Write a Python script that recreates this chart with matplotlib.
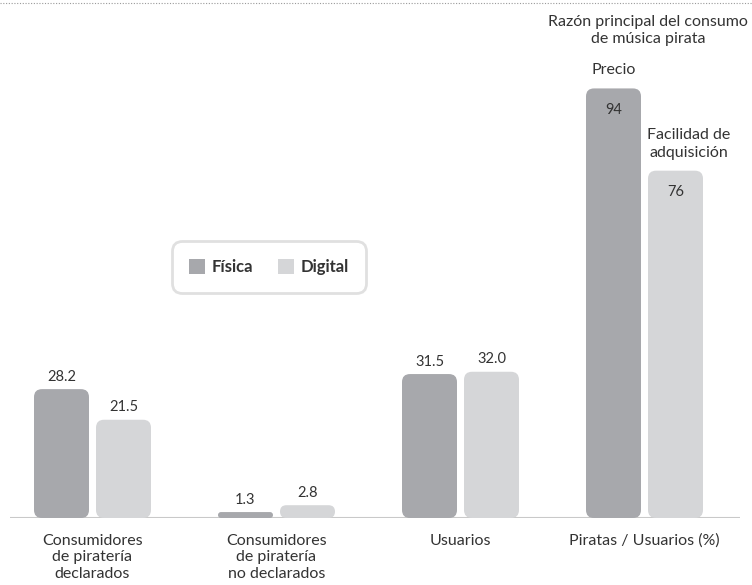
import matplotlib.pyplot as plt
from matplotlib.patches import FancyBboxPatch, Patch
from matplotlib.lines import Line2D

plt.rcParams['font.family'] = ['Lato', 'DejaVu Sans']

categorias = ['Consumidores\nde piratería\ndeclarados',
              'Consumidores\nde piratería\nno declarados',
              'Usuarios',
              'Piratas / Usuarios (%)']
fisica = [28.2, 1.3, 31.5, 94]
digital = [21.5, 2.8, 32.0, 76]
etiquetas_fisica = ['28.2', '1.3', '31.5', '94']
etiquetas_digital = ['21.5', '2.8', '32.0', '76']

c_fisica = '#a7a8ac'
c_digital = '#d5d6d8'
c_texto = '#333333'

fig = plt.figure(figsize=(7.52, 5.85), dpi=100)
ax = fig.add_axes([0, 67 / 585, 1, 518 / 585])
ax.set_xlim(-92.5 / 184, (752 - 92.5) / 184)
ax.set_ylim(0, 518 / 4.57)
ax.axis('off')

ancho = 55 / 184
desp = 31 / 184
aspecto = 184 / 4.57
radio = 8 / 184


def barra(x, h, color):
    r = min(radio, h / aspecto / 2)
    p = FancyBboxPatch((x - ancho / 2, 0), ancho, h,
                       boxstyle='round,pad=0,rounding_size=%f' % r,
                       mutation_aspect=aspecto, fc=color, ec='none', zorder=2)
    ax.add_patch(p)


estilo = dict(color=c_texto)

for i in range(len(categorias)):
    barra(i - desp, fisica[i], c_fisica)
    barra(i + desp, digital[i], c_digital)
    if i < 3:
        ax.text(i - desp, fisica[i] + 1.2, etiquetas_fisica[i], ha='center', va='bottom',
                fontsize=10.5, **estilo)
        ax.text(i + desp, digital[i] + 1.2, etiquetas_digital[i], ha='center', va='bottom',
                fontsize=10.5, **estilo)
    else:
        ax.text(i - desp, fisica[i] - 3.2, etiquetas_fisica[i], ha='center', va='top',
                fontsize=10.5, **estilo)
        ax.text(i + desp, digital[i] - 3.2, etiquetas_digital[i], ha='center', va='top',
                fontsize=10.5, **estilo)
    ax.text(i, -3.4, categorias[i], ha='center', va='top', fontsize=11.5,
            linespacing=1.25, **estilo)

# anotaciones de la última categoría
ax.text(3 - desp, fisica[3] + 2.6, 'Precio', ha='center', va='bottom',
        fontsize=11.5, **estilo)
ax.text(3 + desp + 0.07, digital[3] + 2.4, 'Facilidad de\nadquisición', ha='center',
        va='bottom', fontsize=11.5, linespacing=1.3, **estilo)
ax.text(3.02, fisica[3] + 9.3, 'Razón principal del consumo\nde música pirata',
        ha='center', va='bottom', fontsize=11.5, linespacing=1.3, **estilo)

# línea base
ax.plot([(10 - 92.5) / 184, (740 - 92.5) / 184], [0, 0], color='#c9c9c9',
        lw=1.5, zorder=1, solid_capstyle='butt')

# línea punteada superior
fig.add_artist(Line2D([0, 1], [1 - 3 / 585, 1 - 3 / 585], color='#9a9a9a',
                      lw=0.8, ls=(0, (1, 1.5))))

handles = [Patch(fc=c_fisica, ec='none', label='Física'),
           Patch(fc=c_digital, ec='none', label='Digital')]
leg = fig.legend(handles=handles, loc='center', bbox_to_anchor=(269 / 752, 1 - 267 / 585),
                 ncol=2, frameon=True, fancybox=True, handlelength=0.95, handleheight=1.0,
                 handletextpad=0.4, columnspacing=1.5, borderpad=1.05,
                 prop={'weight': 'bold', 'size': 12})
for t in leg.get_texts():
    t.set_color(c_texto)
frame = leg.get_frame()
frame.set_edgecolor('#d9d9d9')
frame.set_linewidth(2)
frame.set_boxstyle('round,pad=0,rounding_size=0.6')

fig.savefig('out.png', dpi=100, facecolor='white')
